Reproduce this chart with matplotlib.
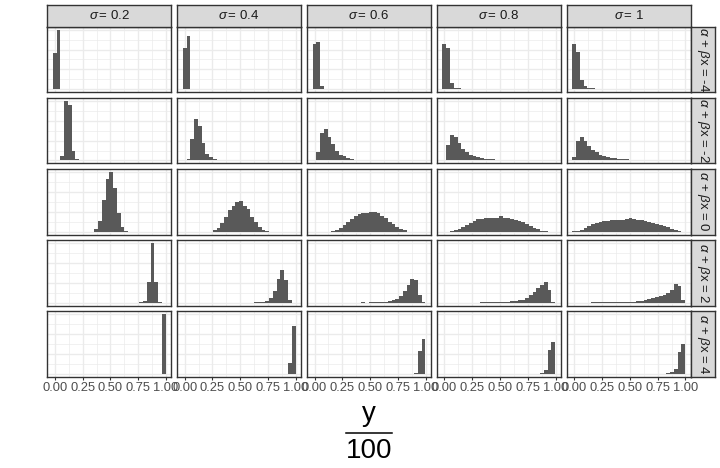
import numpy as np
import matplotlib
matplotlib.use("Agg")
import matplotlib.pyplot as plt
from matplotlib.ticker import MultipleLocator
from matplotlib.lines import Line2D

plt.rcParams['font.family'] = ['Liberation Sans', 'DejaVu Sans']
plt.rcParams['mathtext.fontset'] = 'custom'
plt.rcParams['mathtext.rm'] = 'Liberation Sans'
plt.rcParams['mathtext.it'] = 'Liberation Sans:italic'

# ---------------- data ----------------
sigma_labels = ["0.2", "0.4", "0.6", "0.8", "1"]
eta_labels = ["-4", "-2", "0", "2", "4"]
x_ticks = [0.0, 0.25, 0.5, 0.75, 1.0]
x_tick_labels = ["0.00", "0.25", "0.50", "0.75", "1.00"]
n_bins = 30
bin_width = 0.98 / 29          # histogram bin width (30 bins)

# counts per bin (30 bins), one list per sigma, one block per alpha + beta x row
counts_eta_m4 = [
    [109, 180, 0, 0, 0, 0, 0, 0, 0, 0, 0, 0, 0, 0, 0, 0, 0, 0, 0, 0, 0, 0, 0, 0, 0, 0, 0, 0, 0, 0],
    [126, 162, 0, 0, 0, 0, 0, 0, 0, 0, 0, 0, 0, 0, 0, 0, 0, 0, 0, 0, 0, 0, 0, 0, 0, 0, 0, 0, 0, 0],
    [136, 144, 9, 0, 0, 0, 0, 0, 0, 0, 0, 0, 0, 0, 0, 0, 0, 0, 0, 0, 0, 0, 0, 0, 0, 0, 0, 0, 0, 0],
    [137, 126, 19, 4, 3, 0, 0, 0, 0, 0, 0, 0, 0, 0, 0, 0, 0, 0, 0, 0, 0, 0, 0, 0, 0, 0, 0, 0, 0, 0],
    [137, 114, 27, 11, 4, 3, 0, 0, 0, 0, 0, 0, 0, 0, 0, 0, 0, 0, 0, 0, 0, 0, 0, 0, 0, 0, 0, 0, 0, 0],
]
counts_eta_m2 = [
    [0, 0, 12, 180, 168, 30, 3, 0, 0, 0, 0, 0, 0, 0, 0, 0, 0, 0, 0, 0, 0, 0, 0, 0, 0, 0, 0, 0, 0, 0],
    [0, 3, 65, 126, 105, 54, 19, 9, 3, 0, 0, 0, 0, 0, 0, 0, 0, 0, 0, 0, 0, 0, 0, 0, 0, 0, 0, 0, 0, 0],
    [0, 25, 82, 94, 70, 50, 30, 18, 12, 7, 4, 0, 0, 0, 0, 0, 0, 0, 0, 0, 0, 0, 0, 0, 0, 0, 0, 0, 0, 0],
    [2, 48, 78, 72, 54, 36, 25, 18, 13, 10, 7, 5, 4, 3, 0, 0, 0, 0, 0, 0, 0, 0, 0, 0, 0, 0, 0, 0, 0, 0],
    [9, 60, 72, 60, 45, 32, 25, 18, 12, 10, 8, 6, 5, 4, 3, 2, 2, 0, 0, 0, 0, 0, 0, 0, 0, 0, 0, 0, 0, 0],
]
counts_eta_0 = [
    [0, 0, 0, 0, 0, 0, 0, 0, 0, 0, 0, 8, 32, 96, 157, 179, 130, 56, 14, 2, 0, 0, 0, 0, 0, 0, 0, 0, 0, 0],
    [0, 0, 0, 0, 0, 0, 0, 0, 5, 11, 27, 43, 65, 77, 88, 92, 78, 67, 44, 29, 13, 5, 2, 0, 0, 0, 0, 0, 0, 0],
    [0, 0, 0, 0, 0, 2, 6, 11, 20, 30, 38, 46, 52, 56, 57, 59, 59, 55, 48, 40, 30, 22, 14, 9, 4, 0, 0, 0, 0, 0],
    [0, 0, 2, 4, 8, 14, 20, 27, 33, 37, 39, 41, 41, 41, 40, 46, 41, 40, 38, 35, 32, 28, 23, 17, 12, 7, 3, 1, 0, 0],
    [1, 2, 5, 10, 18, 22, 26, 29, 31, 33, 35, 35, 34, 35, 37, 40, 37, 36, 34, 32, 29, 27, 24, 21, 17, 13, 9, 4, 1, 0],
]
counts_eta_p2 = [
    [0, 0, 0, 0, 0, 0, 0, 0, 0, 0, 0, 0, 0, 0, 0, 0, 0, 0, 0, 0, 0, 0, 0, 1, 4, 61, 179, 61, 2, 0],
    [0, 0, 0, 0, 0, 0, 0, 0, 0, 0, 0, 0, 0, 0, 0, 0, 0, 0, 0, 2, 2, 2, 4, 14, 36, 71, 98, 68, 8, 0],
    [0, 0, 0, 0, 0, 0, 0, 0, 0, 0, 0, 0, 0, 2, 0, 2, 2, 2, 2, 3, 5, 8, 12, 20, 36, 54, 72, 67, 24, 2],
    [0, 0, 0, 0, 0, 0, 0, 0, 0, 0, 2, 2, 2, 2, 2, 2, 2, 2, 5, 5, 7, 9, 14, 22, 31, 44, 54, 62, 38, 2],
    [0, 0, 0, 0, 0, 2, 2, 2, 2, 2, 2, 2, 2, 2, 2, 2, 2, 5, 6, 8, 10, 13, 17, 19, 24, 29, 39, 56, 51, 8],
]
counts_eta_p4 = [
    [0, 0, 0, 0, 0, 0, 0, 0, 0, 0, 0, 0, 0, 0, 0, 0, 0, 0, 0, 0, 0, 0, 0, 0, 0, 0, 0, 0, 0, 180],
    [0, 0, 0, 0, 0, 0, 0, 0, 0, 0, 0, 0, 0, 0, 0, 0, 0, 0, 0, 0, 0, 0, 0, 0, 0, 0, 0, 0, 33, 146],
    [0, 0, 0, 0, 0, 0, 0, 0, 0, 0, 0, 0, 0, 0, 0, 0, 0, 0, 0, 0, 0, 0, 0, 0, 0, 0, 0, 3, 70, 105],
    [0, 0, 0, 0, 0, 0, 0, 0, 0, 0, 0, 0, 0, 0, 0, 0, 0, 0, 0, 0, 0, 0, 0, 0, 0, 0, 3, 13, 72, 96],
    [0, 0, 0, 0, 0, 0, 0, 0, 0, 0, 0, 0, 0, 0, 0, 0, 0, 0, 0, 0, 0, 0, 0, 0, 0, 2, 5, 15, 66, 90],
]
rows = [counts_eta_m4, counts_eta_m2, counts_eta_0, counts_eta_p2, counts_eta_p4]

# ---------------- layout (pixels) ----------------
W, H = 720, 468
panel_left0, panel_w, col_pitch = 47.3, 124.0, 129.85
panel_top0, panel_h, row_pitch = 26.7, 65.6, 71.15
strip_top = 5.0
strip_right_w = 24.0

BAR = '#595959'
GRID = '#EBEBEB'
BORDER = '#333333'
STRIP = '#D9D9D9'


def frac_rect(left_px, top_px, w_px, h_px):
    return [left_px / W, 1 - (top_px + h_px) / H, w_px / W, h_px / H]


fig = plt.figure(figsize=(W / 100, H / 100), dpi=100)

centers = np.arange(n_bins) * bin_width
lo = centers[0] - bin_width / 2
hi = centers[-1] + bin_width / 2
pad = 0.05 * (hi - lo)

for r, row_counts in enumerate(rows):
    ymax = max(max(c) for c in row_counts)
    top_px = panel_top0 + r * row_pitch
    for c, counts in enumerate(row_counts):
        left_px = panel_left0 + c * col_pitch
        ax = fig.add_axes(frac_rect(left_px, top_px, panel_w, panel_h))
        ax.set_axisbelow(True)
        ax.bar(centers, counts, width=bin_width, color=BAR, linewidth=0)
        ax.set_xlim(lo - pad, hi + pad)
        ax.set_ylim(-0.05 * ymax, 1.05 * ymax)
        ax.xaxis.set_major_locator(MultipleLocator(0.25))
        ax.xaxis.set_minor_locator(MultipleLocator(0.125))
        ax.yaxis.set_major_locator(MultipleLocator(60))
        ax.yaxis.set_minor_locator(MultipleLocator(30))
        ax.grid(which='major', color=GRID, linewidth=0.95)
        ax.grid(which='minor', color=GRID, linewidth=0.5)
        for s in ax.spines.values():
            s.set_color(BORDER)
            s.set_linewidth(1.0)
        ax.tick_params(axis='y', which='both', length=0, labelleft=False)
        ax.tick_params(axis='x', which='minor', length=0)
        if r == len(rows) - 1:
            ax.set_xticks(x_ticks)
            ax.set_xticklabels(x_tick_labels)
            ax.tick_params(axis='x', which='major', length=2.0, width=0.8,
                           color=BORDER, labelcolor='#4D4D4D', labelsize=9.3, pad=1.5)
        else:
            ax.tick_params(axis='x', which='major', length=0, labelbottom=False)

        if r == 0:
            sx = fig.add_axes(frac_rect(left_px, strip_top, panel_w, panel_top0 - strip_top))
            sx.set_facecolor(STRIP)
            sx.set_xticks([]); sx.set_yticks([])
            for s in sx.spines.values():
                s.set_color(BORDER); s.set_linewidth(1.0)
            sx.text(0.5, 0.5, r'$\sigma\,$= ' + sigma_labels[c], transform=sx.transAxes,
                    ha='center', va='center', fontsize=9.5, color='#1A1A1A')

    sy = fig.add_axes(frac_rect(panel_left0 + 4 * col_pitch + panel_w, top_px,
                                strip_right_w, panel_h))
    sy.set_facecolor(STRIP)
    sy.set_xticks([]); sy.set_yticks([])
    for s in sy.spines.values():
        s.set_color(BORDER); s.set_linewidth(1.0)
    sy.text(0.5, 0.5, r'$\alpha$ + $\beta$x = ' + eta_labels[r], transform=sy.transAxes,
            ha='center', va='center', rotation=270, fontsize=9.5, color='#1A1A1A')

# x-axis title: y / 100 as a fraction
cx = (panel_left0 + 4 * col_pitch + panel_w + panel_left0) / 2 / W
fig.text(cx, 1 - 421 / H, 'y', ha='center', va='baseline', fontsize=20, color='black')
fig.text(cx, 1 - 458 / H, '100', ha='center', va='baseline', fontsize=20, color='black')
fig.add_artist(Line2D([cx - 23 / W, cx + 23 / W], [1 - 433 / H, 1 - 433 / H],
                      color='black', linewidth=1.1))

fig.savefig('out.png', dpi=100, facecolor='white')
